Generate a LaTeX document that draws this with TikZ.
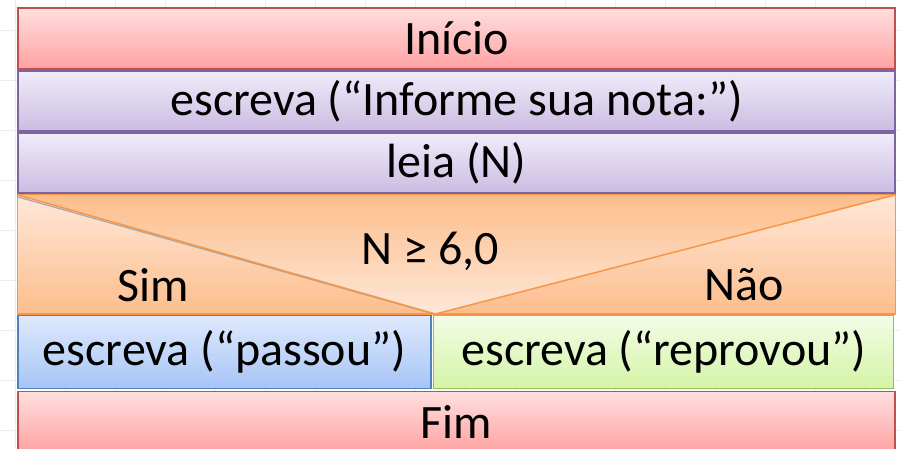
\documentclass[tikz,border=0pt]{standalone}
\usepackage{fontspec}
\setmainfont{Carlito}
\usepackage{tikz}
\usetikzlibrary{positioning}

\definecolor{vermB}{HTML}{C0504D}
\definecolor{vermC}{HTML}{FFDEDE}
\definecolor{vermE}{HTML}{FFA2A2}
\definecolor{roxoB}{HTML}{8064A2}
\definecolor{roxoC}{HTML}{F0ECF9}
\definecolor{roxoE}{HTML}{CBBCE2}
\definecolor{larB}{HTML}{F79646}
\definecolor{larC}{HTML}{FFE7D9}
\definecolor{larE}{HTML}{FCBE8C}
\definecolor{azulB}{HTML}{4F81BD}
\definecolor{azulC}{HTML}{DFE9FC}
\definecolor{azulE}{HTML}{A6C4F6}
\definecolor{verdeB}{HTML}{9BBB59}
\definecolor{verdeC}{HTML}{F3FCE6}
\definecolor{verdeE}{HTML}{D3F4A6}

\tikzstyle{caixa}  = [rectangle, line width=1.2pt, inner sep=0pt, text centered, font=\fontsize{48}{52}\selectfont]
\tikzstyle{limite} = [caixa, draw=vermB, top color=vermC, bottom color=vermE, minimum width=877pt, minimum height=61pt]
\tikzstyle{instr}  = [caixa, draw=roxoB, top color=roxoC, bottom color=roxoE, minimum width=877pt, minimum height=60pt]
\tikzstyle{cond}   = [caixa, draw=larB, fill=larE, minimum width=877pt, minimum height=118pt]
\tikzstyle{ramoS}  = [caixa, draw=azulB, top color=azulC, bottom color=azulE, minimum width=413pt, minimum height=73pt]
\tikzstyle{ramoN}  = [caixa, draw=verdeB, top color=verdeC, bottom color=verdeE, minimum width=460pt, minimum height=73pt]
\tikzstyle{rotulo} = [font=\fontsize{48}{52}\selectfont, inner sep=0pt]
\tikzstyle{diag}   = [draw=larB, line width=1.5pt]
\tikzstyle{grade}  = [draw=black!7, line width=0.8pt]

\begin{document}
\begin{tikzpicture}[x=1pt, y=1pt, node distance=0.8pt]
    \useasboundingbox (0,0) rectangle (900,-449);
    \clip (0,0) rectangle (900,-449);
    \draw [grade, step=50pt, shift={(15pt,-30pt)}] (-50,50) grid (900,-450);

    \node (ini) [limite] at (456.5,-38.5) {Início};
    \node (esc) [instr, below=of ini]     {escreva (“Informe sua nota:”)};
    \node (lei) [instr, below=of esc]     {leia (N)};
    \node (dec) [cond, below=1.2pt of lei] {};
    \coordinate (vx) at ([xshift=418pt]dec.south west);

    % triangulos da condicao
    \shade [top color=larC, bottom color=larE] (dec.north west) -- (vx) -- (dec.south west) -- cycle;
    \shade [top color=larC, bottom color=larE] (dec.north east) -- (vx) -- (dec.south east) -- cycle;
    \shade [top color=larE, bottom color=larC] (dec.north west) -- (vx) -- (dec.north east) -- cycle;
    \draw [draw=larB, line width=1.2pt] (dec.north west) rectangle (dec.south east);
    \draw [draw=black!35, line width=1.2pt] ([yshift=-2pt]dec.north west) -- ([xshift=-5pt, yshift=1pt]vx);
    \draw [diag] (dec.north west) -- (vx) -- (dec.north east);

    \node (cnd) [rotulo] at ([xshift=-26pt, yshift=-57pt]dec.north) {N ≥ 6,0};
    \node (sim) [rotulo] at ([xshift=136pt, yshift=29pt]dec.south west) {Sim};
    \node (nao) [rotulo] at ([xshift=-151pt, yshift=29pt]dec.south east) {Não};

    \node (psd) [ramoS, below right=1.2pt and 0pt of dec.south west] {escreva (“passou”)};
    \node (rep) [ramoN, right=1.6pt of psd] {escreva (“reprovou”)};
    \node (fim) [limite, below right=1.6pt and 0pt of psd.south west] {Fim};
\end{tikzpicture}
\end{document}
